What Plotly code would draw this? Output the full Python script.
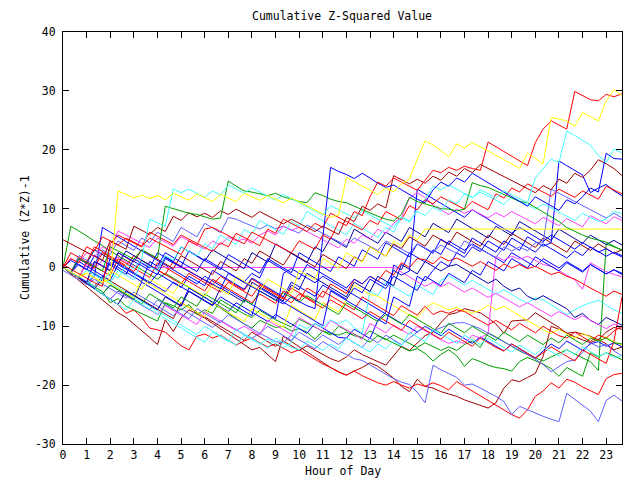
import plotly.graph_objects as go

hours = [0, 0.33, 0.67, 1, 1.33, 1.67, 2, 2.33, 2.67, 3, 3.33, 3.67,
         4, 4.33, 4.67, 5, 5.33, 5.67, 6, 6.33, 6.67, 7, 7.33, 7.67,
         8, 8.33, 8.67, 9, 9.33, 9.67, 10, 10.33, 10.67, 11, 11.33, 11.67,
         12, 12.33, 12.67, 13, 13.33, 13.67, 14, 14.33, 14.67, 15, 15.33, 15.67,
         16, 16.33, 16.67, 17, 17.33, 17.67, 18, 18.33, 18.67, 19, 19.33, 19.67,
         20, 20.33, 20.67, 21, 21.33, 21.67, 22, 22.33, 22.67, 23, 23.33, 23.67]

x_ticks = list(range(0, 24))
y_ticks = [-30, -20, -10, 0, 10, 20, 30, 40]

s01 = [0, -0.8, -1.5, -1.0, -1.8, -2.5, -2.0, 13.0, 12.4, 11.8, 12.3, 11.7,
       12.2, 11.5, 12.6, 12.0, 11.4, 12.5, 11.9, 11.2, 12.4, 11.8, 11.2, 12.6,
       12.0, 11.4, 12.2, 11.6, 11.0, 11.8, 11.1, 10.4, 9.8, 9.1, 8.5, 8.9,
       15.3, 14.6, 13.8, 13.1, 12.4, 13.5, 12.8, 14.2, 15.0, 18.4, 21.5, 20.8,
       19.9, 18.8, 21.0, 20.3, 21.2, 20.5, 19.8, 19.0, 18.3, 17.6, 16.8, 19.4,
       18.5, 17.6, 25.5, 25.2, 24.9, 24.0, 26.3, 25.6, 24.9, 28.3, 30.2, 29.2]
s02 = [0.5, -0.3, -1.1, -1.9, -2.6, -3.2, 4.0, 5.5, 4.8, 4.2, 3.5, 5.0,
       4.3, 3.6, 2.9, 2.2, 4.5, 3.8, 6.5, 6.8, 6.1, 5.4, 4.7, 4.0,
       6.0, 5.3, 4.6, 3.9, 3.2, 2.5, 4.5, 3.8, 3.1, 5.5, 4.8, 7.8,
       7.1, 9.5, 8.8, 12.0, 14.5, 13.8, 15.2, 14.5, 13.8, 13.1, 14.8, 16.5,
       16.1, 17.0, 16.5, 17.2, 16.8, 16.5, 21.3, 20.5, 19.7, 18.9, 18.1, 17.3,
       21.2, 23.5, 24.9, 24.2, 23.5, 29.9, 29.2, 28.5, 28.3, 29.4, 29.0, 29.5]
s03 = [0, -0.8, -1.6, -0.5, -1.3, -2.1, -1.0, -1.8, 0.5, -0.3, 1.5, 8.2,
       7.6, 7.0, 13.3, 12.7, 13.3, 12.6, 11.9, 13.0, 12.3, 14.0, 13.3, 12.6,
       13.5, 12.8, 12.1, 11.4, 12.4, 11.7, 11.0, 10.3, 9.6, 8.9, 10.5, 9.8,
       9.1, 8.4, 9.6, 8.9, 8.2, 7.5, 6.8, 8.6, 7.9, 9.5, 8.8, 10.2,
       9.5, 11.5, 10.8, 12.5, 11.8, 13.2, 12.5, 11.8, 13.0, 12.3, 11.6, 11.0,
       15.2, 16.7, 18.4, 17.8, 23.2, 22.4, 21.6, 20.8, 19.0, 17.8, 20.1, 19.5]
s04 = [0, -0.9, -1.7, -2.5, 1.0, 0.3, -0.5, 2.5, 1.8, 1.0, 0.3, -0.5,
       -1.2, 1.5, 0.8, 0.1, -0.6, -1.4, -2.1, -2.9, -3.6, -1.0, -1.8, -2.6,
       -3.3, -4.0, -4.8, -5.5, -6.2, -5.0, -5.8, -6.5, -7.0, 5.0, 17.0, 16.3,
       15.8, 15.1, 16.0, 15.2, 14.3, 13.6, 14.0, 13.2, 12.4, 11.6, 11.0, 13.2,
       14.5, 13.8, 15.2, 14.5, 16.0, 15.2, 14.3, 13.5, 12.8, 12.0, 11.2, 10.4,
       12.0, 11.2, 10.4, 9.7, 11.5, 10.8, 12.0, 13.5, 12.8, 19.4, 18.5, 18.4]
s05 = [0, 1.5, 0.8, 3.5, 2.8, 5.2, 4.5, 3.8, 5.0, 4.3, 3.6, 6.0,
       5.3, 4.6, 3.9, 5.5, 4.8, 4.1, 3.4, 2.7, 4.2, 3.5, 5.8, 5.1,
       4.4, 3.7, 6.5, 5.8, 8.2, 7.5, 6.8, 6.1, 7.5, 6.8, 9.2, 8.5,
       7.8, 7.1, 6.4, 8.0, 7.3, 9.5, 8.8, 8.1, 10.5, 9.8, 11.5, 10.8,
       12.0, 11.3, 10.6, 9.9, 11.2, 10.5, 9.8, 12.5, 11.8, 13.5, 12.8, 14.2,
       13.5, 12.8, 12.1, 13.3, 12.6, 11.9, 13.0, 12.3, 11.6, 13.8, 13.1, 12.5]
s06 = [4.7, 4.0, 3.3, 2.6, 1.9, 1.2, 4.5, 3.8, 3.1, 7.0, 6.3, 5.6,
       6.8, 6.1, 8.7, 8.0, 9.3, 8.6, 9.2, 8.5, 9.6, 9.0, 9.9, 9.2,
       8.5, 9.5, 8.8, 8.1, 7.4, 8.2, 7.5, 6.8, 6.1, 7.0, 6.3, 5.6,
       8.5, 7.8, 10.4, 9.7, 10.8, 10.1, 15.6, 14.9, 14.2, 15.0, 14.3, 15.5,
       14.8, 16.2, 15.5, 16.8, 16.1, 17.5, 16.8, 16.1, 15.4, 14.7, 14.0, 13.3,
       12.7, 13.9, 13.2, 15.0, 14.3, 16.0, 15.3, 16.5, 18.3, 17.6, 16.8, 15.6]
s07 = [0, -0.8, 1.5, 0.8, 0.1, -0.6, 3.5, 2.8, 2.1, 1.4, 3.0, 2.3,
       1.6, 10.4, 10.0, 9.5, 9.2, 9.0, 8.6, 8.2, 8.4, 14.7, 13.8, 13.0,
       12.8, 12.5, 12.2, 12.6, 12.0, 11.6, 11.2, 11.0, 12.7, 12.2, 11.6, 11.2,
       11.0, 10.4, 9.8, 9.2, 8.7, 8.2, 7.9, 9.0, 11.9, 11.2, 10.8, 10.4,
       10.0, 9.9, 9.6, 9.9, 14.4, 13.9, 13.6, 13.0, 12.4, 11.8, 11.2, 11.0,
       10.2, 9.4, 8.5, 7.8, 6.8, 6.1, 5.5, 5.0, 4.6, 4.3, 3.6, 2.9]
s08 = [0, 7.0, 6.2, 5.3, 4.5, 3.7, 2.8, 2.0, 1.2, 0.4, -0.4, -1.2,
       -2.0, -1.0, -1.8, -2.6, -3.4, -4.2, -5.0, -6.0, -6.9, -7.8, -8.7, -9.6,
       -10.3, -9.0, -9.6, -10.2, -10.0, -10.8, -10.4, -11.0, -12.2, -10.8, -11.2, -11.5,
       -11.0, -11.6, -11.9, -10.8, -11.5, -12.2, -12.8, -13.5, -14.2, -13.8, -14.6, -15.9,
       -14.8, -14.0, -15.0, -16.8, -15.5, -16.0, -16.6, -17.0, -17.2, -17.6, -16.0, -15.3,
       -15.8, -16.4, -17.2, -18.5, -17.0, -17.8, -18.5, -14.5, -15.2, -14.5, -15.0, -15.7]
s09 = [0, -0.9, -1.7, -2.5, -3.3, -4.1, -6.0, -5.3, -6.6, -7.2, -7.8, -8.5,
       -9.1, -6.0, -6.5, -7.2, -6.3, -8.0, -7.2, -7.8, -5.5, -6.3, -7.1, -7.9,
       -8.5, -7.3, -8.1, -8.9, -9.5, -10.1, -8.8, -9.5, -10.2, -10.8, -11.5, -10.0,
       -10.7, -11.4, -12.1, -12.7, -11.6, -12.3, -11.5, -12.2, -12.9, -13.6, -12.8, -13.5,
       -14.1, -13.5, -14.1, -13.1, -12.5, -13.6, -11.1, -11.8, -12.6, -13.4, -14.2, -14.8,
       -15.4, -15.9, -15.2, -14.6, -14.0, -14.7, -15.3, -16.0, -17.5, 4.0, 3.5, 3.0]
s10 = [-0.5, -1.3, -2.1, -2.9, -2.0, -2.8, -3.6, -4.4, -5.2, -4.2, -5.0, -5.8,
       -6.6, -7.4, -8.2, -7.0, -7.8, -8.6, -9.4, -10.2, -9.0, -9.8, -10.6, -11.4,
       -12.0, -11.2, -11.9, -12.6, -12.8, -11.5, -12.3, -13.1, -13.8, -12.6, -13.4, -14.2,
       -14.8, -15.5, -15.8, -16.6, -17.4, -18.2, -18.9, -19.5, -19.9, -21.2, -23.0, -16.6,
       -17.4, -18.0, -18.7, -20.0, -19.8, -20.5, -21.2, -21.9, -22.8, -25.0, -23.6, -24.2,
       -24.8, -25.3, -25.8, -26.2, -21.4, -22.4, -23.4, -24.4, -26.2, -22.6, -21.7, -22.7]
s11 = [0, -0.9, -1.8, -2.7, -3.6, -4.5, -5.4, -6.3, -7.8, -7.2, -8.5, -10.3,
       -10.6, -11.0, -12.2, -13.3, -14.0, -11.7, -11.3, -12.0, -11.5, -12.4, -13.2, -12.5,
       -12.0, -12.8, -13.5, -13.0, -13.8, -14.5, -14.0, -14.8, -15.6, -16.4, -17.0, -17.8,
       -18.3, -17.6, -18.4, -19.0, -19.6, -20.0, -19.4, -20.0, -20.5, -19.8, -20.2, -19.6,
       -20.1, -20.8, -19.4, -20.2, -21.0, -21.8, -22.6, -23.5, -24.3, -25.0, -25.6, -24.2,
       -21.9, -21.0, -19.6, -20.5, -19.0, -19.5, -20.3, -20.9, -21.6, -18.9, -18.2, -18.0]
s12 = [0, -1.1, -2.2, -3.3, -4.4, -5.5, -6.6, -7.7, -8.5, -9.6, -10.7, -11.9,
       -13.1, -8.9, -10.9, -8.6, -7.2, -7.9, -8.6, -9.5, -10.4, -11.3, -12.2, -13.0,
       -14.0, -13.6, -14.8, -16.0, -11.7, -12.6, -13.5, -14.4, -15.3, -16.2, -17.0, -17.7,
       -18.3, -17.6, -17.0, -16.2, -16.8, -17.8, -18.8, -20.2, -21.1, -19.0, -20.2, -20.5,
       -21.1, -21.5, -21.9, -22.5, -23.0, -23.5, -23.9, -23.0, -20.5, -19.1, -19.4, -18.7,
       -18.0, -15.1, -10.0, -10.5, -11.2, -11.8, -12.3, -12.8, -12.2, -13.0, -14.0, -13.5]
s13 = [0, -0.8, -1.6, -2.4, -3.2, -1.5, -2.3, -3.1, -3.9, -4.7, -5.5, -6.3,
       -7.1, -7.9, -8.7, -6.0, -6.8, -7.6, -8.4, -9.2, -10.0, -10.8, -11.6, -12.4,
       -11.0, -11.8, -12.6, -13.4, -12.5, -13.3, -14.1, -13.3, -14.0, -14.8, -15.5, -16.0,
       -15.2, -14.0, -14.8, -15.4, -16.0, -16.6, -15.0, -13.4, -14.1, -12.8, -11.6, -11.0,
       -9.4, -8.0, -7.7, -7.0, -7.4, -7.7, -8.6, -9.6, -11.2, -9.1, -9.0, -8.9,
       -7.7, -8.5, -9.3, -10.2, -11.2, -11.0, -11.3, -11.7, -12.3, -11.0, -10.2, -10.5]
s15 = [0, -0.9, -1.8, -2.7, -1.5, 6.8, 6.0, 5.2, 4.4, 3.6, 2.8, 2.0,
       1.2, 0.4, -0.4, -1.2, -2.0, -2.8, -1.5, -2.3, -3.1, -3.9, -4.7, -5.5,
       -6.3, -7.1, -7.9, -8.7, -1.0, -0.2, -1.0, -1.8, -2.6, -1.5, -2.3, -3.1,
       -3.9, -4.7, -5.5, -6.3, -7.1, -7.9, -8.7, -9.5, -10.2, -11.0, -10.0, -10.8,
       -11.6, -10.5, -11.3, -12.1, -12.9, -11.8, -12.6, -13.4, -14.2, -13.0, -13.8, -14.6,
       -15.4, -14.2, -13.0, -13.8, -12.5, -13.3, -14.1, -13.0, -12.6, -13.4, -12.8, -13.5]
s16 = [0, -0.9, 0.5, -0.3, -1.1, -1.9, 0.8, 0.0, -0.8, -1.6, -2.4, 1.0,
       0.2, 2.5, 1.7, 0.9, 0.1, -0.7, 1.5, 0.7, -0.1, -0.9, -1.7, -2.5,
       -1.0, -1.8, 1.2, 0.4, -0.4, -1.2, -2.0, 0.5, -0.3, -1.1, -1.9, -2.7,
       -3.5, -2.0, -2.8, -1.5, -2.3, -3.1, -0.5, -1.3, -0.6, 13.3, 12.5, 11.7,
       10.9, 10.1, 9.3, 8.5, 9.8, 9.0, 8.2, 7.4, 6.6, 5.8, 6.8, 6.0,
       5.2, 4.4, 5.5, 4.7, 3.9, 3.1, 4.2, 3.4, 2.6, 3.2, 2.4, 1.8]
s17 = [0, -0.9, -1.8, -2.7, -3.6, -4.5, -3.0, -3.8, -4.6, -5.4, -2.5, -3.3,
       -4.1, -4.9, -5.7, -6.5, -3.5, -4.3, -5.1, -5.9, -6.7, -7.5, -6.0, -6.8,
       -7.6, -8.4, -9.2, -8.0, -8.8, -9.6, -10.4, -11.2, -9.5, -10.3, -11.1, -11.9,
       -12.0, -10.5, -11.3, -12.1, -9.0, -7.6, 0.4, -0.4, 2.5, 1.7, 0.9, 3.0,
       2.2, 4.5, 3.7, 2.9, 4.0, 3.2, 2.4, 1.6, 0.8, 2.5, 1.7, 0.9,
       0.1, 1.5, 0.7, -0.1, 1.0, 0.2, -0.6, 0.5, -0.3, -1.1, -0.4, -1.2]
s18 = [0, -0.8, -1.6, 0.5, -0.3, 1.2, 0.4, 1.8, 1.0, 0.2, 0.8, 0.0,
       0, 0, 0, 0, 0, 0, 0, 0, 0, 0, 0, 0,
       0, 0, 0, 0, 0, 0, 0, 0, 0, 0, 0, 0,
       0, 0, 0, 0, 0, 0, 0, -0.8, -1.6, -2.4, -3.2, -2.5,
       -3.3, -2.6, -3.4, -4.2, -3.5, -4.3, -5.1, -4.4, -5.2, -6.0, -6.7, -6.0,
       -6.8, -7.5, -8.3, -7.5, -8.2, -8.9, -8.2, -9.0, -9.7, -10.4, -9.6, -10.2]
s19 = [0, -0.9, -1.8, -2.7, -3.6, -4.5, -5.4, -4.0, -4.8, -5.6, -6.4, -7.2,
       -8.0, -6.5, -7.3, -8.1, -8.9, -9.7, -7.5, -8.3, -9.1, -9.9, -10.7, -10.0,
       -10.8, -11.5, -9.0, -9.8, -10.6, -11.4, -8.5, -9.3, -10.1, -10.9, -9.0, -9.8,
       -10.6, -11.4, -12.2, -9.5, -10.3, -11.1, -9.8, -10.6, -11.4, -10.0, -10.8, -11.6,
       -12.3, -12.9, -12.5, -12.9, -11.5, -12.0, -11.2, 1.9, 1.2, 1.9, 1.4, 1.9,
       1.2, 0.5, 0.2, -0.5, -1.3, -2.1, -3.7, 0.8, 0.1, -0.7, -1.2, -1.6]
s20 = [0, 1.5, 0.8, 2.5, 1.8, 3.5, 2.8, 6.2, 5.5, 4.8, 4.1, 3.4,
       5.0, 4.3, 3.6, 5.2, 4.5, 3.8, 3.1, 4.5, 3.8, 5.2, 4.5, 4.8,
       4.1, 5.5, 6.2, 5.5, 7.0, 6.3, 6.8, 6.1, 5.4, 4.7, 4.0, 3.3,
       4.8, 4.1, 5.5, 4.8, 6.5, 5.8, 7.5, 8.5, 11.8, 12.7, 11.9, 10.6,
       9.8, 9.0, 9.9, 9.2, 9.8, 9.1, 8.4, 9.3, 8.6, 9.5, 8.8, 8.1,
       7.4, 8.5, 7.8, 7.1, 8.3, 7.6, 6.9, 8.8, 8.1, 7.4, 8.6, 8.0]
s21 = [0, -0.9, -1.8, -2.7, -1.0, -1.8, -2.6, -3.4, -4.2, -5.0, -5.8, -6.6,
       -7.4, -8.2, -9.0, -9.8, -10.6, -11.4, -10.0, -10.8, -11.6, -12.4, -13.2, -11.5,
       -12.3, -13.0, -12.2, -12.9, -13.6, -12.8, -9.7, -10.4, -9.5, -10.2, -8.9, -9.6,
       -8.9, -10.2, -11.2, -4.0, -4.8, -2.5, -3.3, -4.1, -4.9, -3.0, -3.8, -4.6,
       -2.2, -1.4, -2.2, -3.0, -2.2, -3.0, -3.7, -4.5, -3.8, -4.6, -5.4, -6.0,
       -5.2, -5.5, -6.3, -7.1, -8.0, -7.2, -6.5, -6.0, -5.6, -6.4, -7.2, -7.8]
s22 = [0, -0.8, -1.6, -2.4, -3.2, -1.8, -2.6, -0.5, -1.3, -2.1, 1.0, 0.2,
       -0.6, 2.0, 1.2, 3.5, 2.7, 1.9, 4.0, 3.2, 5.5, 4.7, 3.9, 6.5,
       5.7, 8.0, 7.2, 6.4, 5.6, 7.8, 7.0, 9.5, 8.7, 7.9, 7.1, 6.3,
       5.5, 7.5, 6.7, 5.9, 5.1, 6.8, 6.0, 8.5, 7.7, 9.8, 11.6, 13.8,
       13.2, 14.0, 13.3, 12.6, 11.9, 12.8, 12.1, 11.4, 10.7, 12.0, 11.3, 10.6,
       9.9, 10.8, 10.1, 9.4, 8.7, 8.0, 9.2, 8.5, 7.8, 8.2, 9.5, 9.2]
s23 = [0, -0.9, -1.8, -1.0, -1.8, -2.6, -0.5, -1.3, -2.1, -2.9, -3.7, -2.0,
       -2.8, -3.6, -4.4, -2.5, -3.3, -4.1, -4.9, -3.0, -3.8, -4.6, -1.5, -2.3,
       -3.1, -3.9, -2.0, -2.8, -3.6, -4.4, -0.5, -1.3, -2.1, 1.5, 0.7, -0.1,
       2.5, 1.7, 0.9, 3.5, 2.7, 1.9, 4.5, 3.7, 5.5, 4.7, 6.5, 6.5,
       6.5, 6.5, 6.5, 6.5, 6.5, 6.5, 6.5, 6.5, 6.5, 6.5, 6.5, 6.5,
       6.5, 6.5, 6.5, 6.5, 6.5, 6.5, 6.5, 6.5, 6.5, 6.5, 6.5, 6.5]
s24 = [0, -0.9, -1.8, -2.7, -3.6, -2.0, -2.8, -3.6, -4.4, -5.2, -2.0, -2.8,
       -3.6, -4.4, -5.2, -6.0, -6.8, -7.6, -8.4, -6.0, -6.8, -7.6, -8.4, -9.2,
       -7.0, -7.8, -8.6, -9.4, -10.2, -6.5, -7.3, -8.1, -8.9, -6.0, -6.8, -7.6,
       -5.5, -3.0, -3.8, -4.6, -4.9, -5.7, -6.5, -7.3, -8.1, -8.5, -7.0, -6.0,
       -6.6, -7.2, -6.8, -7.4, -7.7, -7.3, -6.4, -7.2, -6.6, -7.4, -8.2, -9.0,
       -9.8, -10.6, -11.2, -10.5, -11.3, -12.0, -11.2, -11.8, -12.5, -11.8, -12.6, -13.2]
s25 = [0, -0.9, -1.8, -2.7, -3.6, -4.5, -5.4, -6.3, -4.0, -4.8, -5.6, -6.4,
       -7.2, -5.0, -5.8, -6.6, -4.0, -4.8, -5.6, -6.4, -3.5, -4.3, -5.1, -5.9,
       -2.5, -3.3, -4.1, -4.9, -5.7, -3.0, -3.8, -1.0, -1.8, -2.6, -3.4, -4.2,
       -5.0, -2.5, -3.3, -4.1, -1.5, -2.3, -3.1, 0.5, -0.3, -1.1, 1.0, 0.2,
       -0.6, 0.2, 0.5, -0.3, -1.1, -1.9, -2.7, -2.0, -3.2, -4.0, -3.5, -4.9,
       -5.5, -4.8, -5.5, -6.3, -7.0, -8.5, -7.8, -9.0, -9.7, -8.5, -9.2, -9.8]
s26 = [0, -0.8, 1.5, 0.7, 3.0, 2.2, 1.4, 0.6, 2.8, 2.0, 1.2, 0.4,
       -0.4, 1.8, 1.0, 3.5, 2.7, 1.9, 1.1, 3.0, 2.2, 1.4, 0.6, -0.2,
       2.5, 1.7, 0.9, 4.0, 3.2, 2.4, 1.6, 0.8, 3.5, 2.7, 5.0, 4.2,
       3.4, 6.5, 5.7, 4.9, 4.1, 6.0, 5.2, 4.4, 6.8, 6.0, 5.2, 7.5,
       6.7, 5.9, 8.2, 7.4, 6.6, 5.8, 5.0, 7.0, 6.2, 5.4, 7.8, 7.0,
       6.2, 5.4, 4.6, 6.5, 5.7, 4.9, 4.1, 5.5, 4.7, 3.9, 4.6, 3.8]
s27 = [0, 1.2, 0.4, -0.4, 2.0, 1.2, 0.4, -0.4, -1.2, 1.5, 0.7, -0.1,
       2.5, 1.7, 0.9, 0.1, 2.8, 2.0, 1.2, 0.4, -0.4, 2.2, 1.4, 0.6,
       -0.2, -1.0, 1.5, 0.7, -0.1, -0.9, 2.5, 1.7, 0.9, 0.1, -0.7, 1.8,
       1.0, 0.2, 3.0, 2.2, 1.4, 4.2, 3.4, 2.6, 1.8, 4.0, 3.2, 2.4,
       4.8, 4.0, 3.2, 2.4, 5.0, 4.2, 3.4, 2.6, 4.5, 3.7, 2.9, 5.2,
       4.4, 3.6, 4.2, 18.1, 17.3, 16.5, 15.7, 12.7, 13.5, 14.1, 13.0, 12.2]
s28 = [0, -0.9, 2.0, 1.2, 0.4, 3.0, 2.2, 4.5, 3.7, 2.9, 5.0, 4.2,
       6.0, 5.2, 4.4, 6.8, 6.0, 5.2, 7.5, 6.7, 5.9, 8.5, 8.2, 7.6,
       7.0, 6.5, 7.2, 6.6, 7.0, 6.4, 5.8, 7.2, 6.5, 5.8, 5.1, 4.4,
       3.7, 5.0, 4.3, 3.6, 2.9, 4.5, 3.8, 3.1, 2.4, 4.0, 3.3, 2.6,
       3.8, 3.1, 2.4, 4.5, 3.8, 3.1, 2.4, 1.7, 3.5, 2.8, 3.5, 2.8,
       4.2, 4.2, 13.3, 12.6, 11.9, 11.2, 10.5, 9.8, 9.1, 8.4, 9.2, 8.4]
s29 = [0, -0.9, -1.8, -2.7, -3.6, -4.5, -5.4, -4.0, -4.8, -5.6, -6.4, -7.2,
       -5.5, -6.3, -7.1, -7.9, -8.7, -7.0, -7.8, -8.6, -9.4, -8.0, -8.8, -9.6,
       -10.4, -11.2, -10.0, -10.8, -11.6, -12.4, -11.0, -11.8, -12.6, -11.5, -12.3, -13.1,
       -12.0, -12.8, -13.6, -12.0, -12.8, -11.5, -12.3, -13.1, -12.0, -11.0, -10.0, -10.8,
       -10.2, -9.7, -9.4, -9.4, -9.9, -10.4, -11.2, -11.9, -12.6, -13.3, -14.0, -14.8,
       -15.6, -16.5, -17.7, -16.8, -16.0, -15.7, -14.5, -12.8, -13.5, -13.1, -14.2, -15.0]
s30 = [0, -0.9, 1.5, 0.7, -0.1, 2.5, 1.7, 0.9, 0.1, -0.7, 1.2, 0.4,
       -0.4, -1.2, -2.0, -2.8, -1.0, -1.8, -2.6, -3.4, -4.2, -2.5, -3.3, -4.1,
       -4.9, -3.0, -3.8, -4.6, -5.4, -3.5, -4.3, -5.1, -5.9, -4.0, -4.8, -5.6,
       -6.4, -7.2, -5.0, -5.8, -6.6, -7.4, -8.2, -6.5, -7.3, -8.1, -6.6, -8.0,
       -7.4, -7.8, -7.2, -7.5, -8.3, -9.0, -9.8, -9.0, -9.8, -10.6, -9.5, -10.3,
       -11.1, -10.0, -10.8, -11.6, -12.0, -11.0, -11.8, -12.6, -11.5, -12.0, -10.8, -10.0]
s31 = [0, 2.5, 1.7, 0.9, 3.5, 2.7, 1.9, 1.1, 0.3, 2.0, 1.2, 0.4,
       -0.4, -1.2, 1.0, 0.2, -0.6, -1.4, -2.2, -3.0, -1.5, -2.3, -3.1, -3.9,
       -2.0, -2.8, -3.6, -4.4, -5.2, -6.0, -4.5, -5.3, -6.1, -6.9, -5.5, -6.3,
       -7.1, -7.9, -8.7, -7.5, -8.3, -9.1, -9.9, -10.7, -9.0, -9.8, -10.6, -11.4,
       -12.2, -11.0, -11.8, -12.6, -13.4, -12.0, -12.8, -13.6, -14.2, -13.0, -13.8, -14.6,
       -15.4, -14.5, -13.5, -14.3, -15.1, -15.9, -14.0, -14.8, -15.6, -16.3, -12.5, -5.0]
s32 = [0, -0.9, -1.8, 1.0, 0.2, -0.6, -1.4, 1.5, 0.7, -0.1, -0.9, -1.7,
       0.8, 0.0, -0.8, -1.6, -2.4, -3.2, -4.0, -2.0, -2.8, -3.6, -4.4, -5.2,
       -6.0, -4.5, -5.3, -6.1, -4.0, -4.8, -5.6, -3.5, -4.3, -5.1, -2.8, -3.6,
       -4.4, -2.0, -2.8, -1.5, -2.3, -0.5, -1.3, 0.8, 0.0, 1.5, 1.3, 0.6,
       1.8, 1.1, 1.6, 0.9, 0.2, 1.0, 0.3, -0.5, 0.6, -0.1, 0.5, -0.2,
       0.2, -0.5, -1.2, -0.8, -1.5, -2.0, -2.8, -3.5, -4.2, -4.9, -4.0, -4.6]
s33 = [0, -0.9, -1.8, -2.7, -3.6, -4.5, -3.0, -3.8, -4.6, -5.4, -6.2, -4.5,
       -5.3, -6.1, -6.9, -5.0, -5.8, -6.6, -4.5, -5.3, -6.1, -6.9, -7.7, -5.5,
       -6.3, -4.0, -4.8, -5.6, -4.3, -5.1, -5.9, -4.8, -5.6, -6.4, -7.2, -8.0,
       -6.0, -6.8, -7.6, -8.4, -9.2, -8.0, -8.8, -9.6, -8.0, -8.8, -9.6, -10.4,
       -11.2, -9.5, -10.3, -11.1, -10.0, -10.8, -11.6, -12.4, -11.0, -11.8, -12.6, -11.5,
       -12.3, -13.1, -12.0, -12.8, -11.5, -12.3, -13.1, -12.0, -12.5, -12.0, -12.8, -13.0]
s34 = [0, -0.9, -1.8, -2.7, -3.6, -4.5, -5.4, -6.3, -7.2, -5.5, -6.3, -7.1,
       -7.9, -8.7, -9.5, -10.3, -11.1, -11.9, -12.7, -11.0, -11.8, -12.6, -10.5, -11.3,
       -12.1, -12.9, -13.7, -12.0, -12.8, -13.6, -14.0, -12.5, -13.3, -14.1, -13.0, -13.8,
       -12.0, -12.8, -13.6, -14.4, -13.0, -13.8, -12.5, -13.3, -11.0, -11.8, -12.6, -10.5,
       -11.3, -12.1, -12.9, -11.5, -12.3, -13.1, -12.0, -12.8, -13.6, -14.4, -13.2, -14.0,
       -14.8, -13.5, -14.3, -15.1, -14.0, -14.8, -13.5, -14.3, -15.1, -14.5, -15.3, -15.0]
s35 = [0, -0.9, -1.8, -2.7, -3.6, -2.0, 1.5, 0.7, -0.1, -0.9, -1.7, -2.5,
       -3.3, -4.1, -2.5, -3.3, -4.1, -4.9, -5.7, -6.5, -5.0, -5.8, -6.6, -7.4,
       -8.2, -3.5, -4.3, -5.1, -5.9, -6.7, -7.5, -8.3, -9.1, -9.9, -4.0, -4.8,
       -5.6, -6.4, -7.2, -8.0, -8.8, -9.6, -5.0, -5.8, -6.6, -1.5, -2.3, -0.5,
       1.0, 0.2, 2.5, 1.7, 3.5, 2.7, 4.5, 3.7, 2.9, 5.0, 4.2, 3.4,
       2.6, 4.0, 3.2, 2.4, 1.6, 2.8, 2.0, 3.5, 2.7, 1.9, 2.6, 2.0]
s36 = [0, -0.9, 1.0, 0.2, -0.6, -1.4, -2.2, 0.5, -0.3, -1.1, -1.9, -2.7,
       -1.0, -1.8, -2.6, -3.4, -1.5, -2.3, -3.1, -0.5, -1.3, -2.1, -2.9, -3.7,
       -1.8, -2.6, -3.4, -4.2, -5.0, -2.5, -3.3, -4.1, -4.9, -3.0, -3.8, -4.6,
       -5.4, -3.5, -4.3, -2.0, -2.8, -3.6, -1.5, -2.3, -3.1, -3.9, -1.5, -2.3,
       -3.1, -1.0, -1.8, -2.6, -0.5, -1.3, 1.0, 0.2, -0.6, 1.5, 0.7, -0.1,
       1.8, 1.0, 0.2, -0.6, 0.8, 0.0, -0.8, 0.5, -0.3, -1.1, -0.4, -1.0]
s37 = [0, -0.9, -1.8, -2.7, 1.0, 0.2, -0.6, 2.5, 1.7, 0.9, 3.0, 2.2,
       1.4, 0.6, -0.2, 2.0, 1.2, 0.4, -0.4, -1.2, 1.0, 0.2, -0.6, 1.5,
       0.7, 2.8, 2.0, 1.2, 0.4, 2.5, 1.7, 0.9, 0.1, 2.2, 1.4, 0.6,
       -0.2, 1.8, 1.0, 3.5, 2.7, 1.9, 4.0, 3.2, 5.2, 4.4, 3.6, 5.5,
       4.7, 3.9, 6.0, 5.2, 4.4, 3.6, 5.5, 4.7, 3.9, 5.8, 5.0, 4.2,
       3.4, 5.0, 4.2, 3.4, 2.6, 4.5, 3.7, 2.9, 4.0, 3.2, 2.4, 3.0]

RED = "#ff0000"
DKRED = "#a00000"
GREEN = "#00a000"
BLUE = "#0000ff"
NAVY = "#0000a0"
SLATE = "#6060ff"
CYAN = "#40ffff"
MAGENTA = "#ff40ff"
YELLOW = "#ffff00"

series = [
    (s13, DKRED), (s12, DKRED), (s11, RED), (s10, SLATE), (s09, GREEN),
    (s08, GREEN), (s15, BLUE), (s17, BLUE), (s19, MAGENTA), (s21, CYAN),
    (s24, YELLOW), (s25, NAVY), (s29, SLATE), (s30, RED), (s31, RED),
    (s33, GREEN), (s34, CYAN), (s36, BLUE), (s32, RED), (s35, BLUE),
    (s18, MAGENTA), (s37, DKRED), (s26, NAVY), (s27, BLUE), (s28, SLATE),
    (s16, BLUE), (s20, MAGENTA), (s22, CYAN), (s23, YELLOW), (s05, RED),
    (s06, DKRED), (s07, GREEN), (s04, BLUE), (s03, CYAN), (s02, RED), (s01, YELLOW),
]

fig = go.Figure()
for vals, col in series:
    fig.add_trace(go.Scatter(x=hours, y=vals, mode="lines",
                             line=dict(color=col, width=1), hoverinfo="skip"))

FONT = "DejaVu Sans Mono"
fig.update_layout(
    width=640, height=480,
    margin=dict(l=63, r=18, t=32, b=36),
    paper_bgcolor="white", plot_bgcolor="white",
    showlegend=False,
    font=dict(family=FONT, size=11.5, color="black"),
    title=dict(text="Cumulative Z-Squared Value", x=342 / 640, xref="container",
               xanchor="center", y=1 - 16 / 480, yref="container", yanchor="middle",
               font=dict(family=FONT, size=11.5, color="black")),
    xaxis=dict(range=[0, 23.67], tickvals=x_ticks, ticktext=[str(v) for v in x_ticks],
               showgrid=False, zeroline=False, showline=True, linecolor="black",
               linewidth=1, mirror="ticks", ticks="inside", ticklen=6,
               tickcolor="black", tickfont=dict(family=FONT, size=11.5)),
    yaxis=dict(range=[-30, 40], tickvals=y_ticks, ticktext=[str(v) for v in y_ticks],
               showgrid=False, zeroline=False, showline=True, linecolor="black",
               linewidth=1, mirror="ticks", ticks="inside", ticklen=6,
               tickcolor="black", ticklabelstandoff=4,
               tickfont=dict(family=FONT, size=11.5)),
    annotations=[
        dict(text="Hour of Day", xref="paper", yref="paper", x=0.5, y=0,
             yshift=-27, showarrow=False, xanchor="center", yanchor="middle",
             font=dict(family=FONT, size=11.5)),
        dict(text="Cumulative (Z*Z)-1", xref="paper", yref="paper", x=0, y=0.5,
             xshift=-38, showarrow=False, textangle=-90, xanchor="center",
             yanchor="middle", font=dict(family=FONT, size=11.5)),
    ],
)

fig.write_html("out.html")
